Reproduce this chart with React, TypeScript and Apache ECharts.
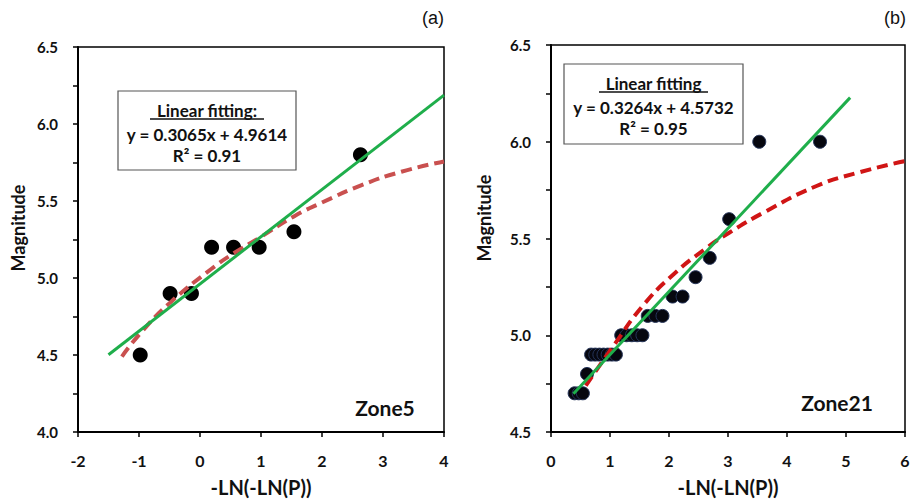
import React, { useEffect, useRef } from "react";
import * as echarts from "echarts";

// Zone5 (a)
const zone5X = [-0.98, -0.49, -0.14, 0.19, 0.55, 0.97, 1.54, 2.63];
const zone5Y = [4.5, 4.9, 4.9, 5.2, 5.2, 5.2, 5.3, 5.8];
const zone5CurveX = [-1.28, -0.98, -0.49, 0.19, 0.55, 0.97, 1.54, 2.0, 2.63, 3.3, 4.0];
const zone5CurveY = [4.49, 4.64, 4.84, 5.06, 5.16, 5.26, 5.4, 5.49, 5.6, 5.69, 5.757];
const zone5Slope = 0.3065;
const zone5Intercept = 4.9614;
const zone5FitX = [-1.5, 4.0];

// Zone21 (b)
const zone21X = [
  0.4, 0.47, 0.54, 0.61,
  0.68, 0.75, 0.82, 0.89, 0.96, 1.03, 1.1,
  1.19, 1.28, 1.37, 1.46, 1.55,
  1.64, 1.77, 1.89,
  2.06, 2.23, 2.45, 2.69, 3.02, 3.53, 4.56,
];
const zone21Y = [
  4.7, 4.7, 4.7, 4.8,
  4.9, 4.9, 4.9, 4.9, 4.9, 4.9, 4.9,
  5.0, 5.0, 5.0, 5.0, 5.0,
  5.1, 5.1, 5.1,
  5.2, 5.2, 5.3, 5.4, 5.6, 6.0, 6.0,
];
const zone21CurveX = [0.59, 1.07, 1.55, 2.06, 2.63, 3.02, 3.64, 4.49, 5.2, 6.0];
const zone21CurveY = [4.74, 4.95, 5.15, 5.31, 5.45, 5.53, 5.64, 5.77, 5.84, 5.9];
const zone21Slope = 0.3264;
const zone21Intercept = 4.5732;
const zone21FitX = [0.38, 5.07];

const FONT = "Lato, 'Noto Sans', sans-serif";

function zip(xs: number[], ys: number[]) {
  return xs.map((x, i) => [x, ys[i]]);
}

function yFmt(v: number) {
  return Math.round(v * 100) % 50 === 0 ? v.toFixed(1) : "";
}

function makeX(gridIndex: number, min: number, max: number) {
  return {
    type: "value",
    gridIndex,
    min,
    max,
    interval: 1,
    name: "-LN(-LN(P))",
    nameLocation: "middle",
    nameGap: 45,
    nameTextStyle: { fontFamily: FONT, fontSize: 20, fontWeight: "bold", color: "#111" },
    axisLine: { show: true, onZero: false, lineStyle: { color: "#000", width: 2 } },
    axisTick: { show: true, length: 5, lineStyle: { color: "#000", width: 1.5 } },
    axisLabel: { fontFamily: FONT, fontSize: 16, fontWeight: "bold", color: "#111", margin: 20 },
    splitLine: { show: false },
  };
}

function makeY(gridIndex: number, min: number, max: number) {
  return {
    type: "value",
    gridIndex,
    min,
    max,
    interval: 0.25,
    axisLine: { show: true, onZero: false, lineStyle: { color: "#000", width: 2 } },
    axisTick: { show: true, length: 5, interval: 0, lineStyle: { color: "#000", width: 1.5 } },
    axisLabel: { fontFamily: FONT, fontSize: 15, fontWeight: "bold", color: "#111", margin: 20, formatter: yFmt },
    splitLine: { show: false },
  };
}

function boxGraphics(x: number, y: number, w: number, h: number, title: string, eq: string, r2: string, ulX1: number, ulX2: number) {
  const cx = x + w / 2;
  const font = `bold 17px ${FONT}`;
  const t = (text: string, ty: number) => ({
    type: "text",
    z: 10,
    style: {
      text,
      x: cx,
      y: ty,
      font,
      fill: "#111",
      align: "center",
      verticalAlign: "middle",
      textAlign: "center",
      textVerticalAlign: "middle",
    },
  });
  return [
    {
      type: "rect",
      z: 9,
      shape: { x, y, width: w, height: h },
      style: { fill: "#fff", stroke: "#555", lineWidth: 1.2 },
    },
    t(title, y + 19),
    {
      type: "line",
      z: 10,
      shape: { x1: ulX1, y1: y + 28, x2: ulX2, y2: y + 28 },
      style: { stroke: "#111", lineWidth: 1.3 },
    },
    t(eq, y + 43),
    t(r2, y + 64),
  ];
}

function label(text: string, x: number, y: number, font: string, rotation = 0) {
  return {
    type: "text",
    z: 10,
    x,
    y,
    rotation,
    style: {
      text,
      x: 0,
      y: 0,
      font,
      fill: "#111",
      align: "center",
      verticalAlign: "middle",
      textAlign: "center",
      textVerticalAlign: "middle",
    },
  };
}

export default function App() {
  const ref = useRef<HTMLDivElement>(null);
  useEffect(() => {
    if (!ref.current) return;
    const chart = echarts.init(ref.current, undefined, { renderer: "svg" });
    const fit5 = zone5FitX.map((x) => [x, zone5Slope * x + zone5Intercept]);
    const fit21 = zone21FitX.map((x) => [x, zone21Slope * x + zone21Intercept]);
    chart.setOption({
      animation: false,
      backgroundColor: "#fff",
      grid: [
        { left: 78, top: 47, width: 366, height: 386, show: true, borderColor: "#000", borderWidth: 1.5, backgroundColor: "transparent" },
        { left: 551, top: 45, width: 354, height: 389, show: true, borderColor: "#000", borderWidth: 1.5, backgroundColor: "transparent" },
      ],
      xAxis: [makeX(0, -2, 4), makeX(1, 0, 6)],
      yAxis: [makeY(0, 4, 6.5), makeY(1, 4.5, 6.5)],
      series: [
        {
          type: "scatter",
          xAxisIndex: 0,
          yAxisIndex: 0,
          data: zip(zone5X, zone5Y),
          symbolSize: 15,
          itemStyle: { color: "#000", opacity: 1 },
          z: 2,
        },
        {
          type: "line",
          xAxisIndex: 0,
          yAxisIndex: 0,
          data: zip(zone5CurveX, zone5CurveY),
          smooth: true,
          showSymbol: false,
          lineStyle: { color: "#c9504f", width: 4, type: [11, 6] },
          z: 3,
        },
        {
          type: "line",
          xAxisIndex: 0,
          yAxisIndex: 0,
          data: fit5,
          showSymbol: false,
          lineStyle: { color: "#1fae4b", width: 3 },
          z: 4,
        },
        {
          type: "scatter",
          xAxisIndex: 1,
          yAxisIndex: 1,
          data: zip(zone21X, zone21Y),
          symbolSize: 13,
          itemStyle: { color: "#06070f", borderColor: "#26355a", borderWidth: 1, opacity: 1 },
          z: 2,
        },
        {
          type: "line",
          xAxisIndex: 1,
          yAxisIndex: 1,
          data: zip(zone21CurveX, zone21CurveY),
          smooth: true,
          showSymbol: false,
          lineStyle: { color: "#d01515", width: 4, type: [11, 6] },
          z: 3,
        },
        {
          type: "line",
          xAxisIndex: 1,
          yAxisIndex: 1,
          data: fit21,
          showSymbol: false,
          lineStyle: { color: "#1fae4b", width: 3 },
          z: 4,
        },
      ],
      graphic: [
        ...boxGraphics(118, 91, 178, 79, "Linear fitting:", "y = 0.3065x + 4.9614", "R\u00b2 = 0.91", 150, 264),
        ...boxGraphics(564, 64, 179, 80, "Linear fitting", "y = 0.3264x + 4.5732", "R\u00b2 = 0.95", 599, 708),
        label("Magnitude", 18, 228, `bold 18px ${FONT}`, Math.PI / 2),
        label("Magnitude", 484, 218, `bold 18px ${FONT}`, Math.PI / 2),
        label("Zone5", 385, 407, `bold 21px ${FONT}`),
        label("Zone21", 837, 402, `bold 21px ${FONT}`),
        label("(a)", 433, 18, `18px 'Liberation Sans', Arial, sans-serif`),
        label("(b)", 895, 18, `18px 'Liberation Sans', Arial, sans-serif`),
      ],
    });
    return () => chart.dispose();
  }, []);
  return (
    <div
      ref={ref}
      style={{ position: "fixed", left: 0, top: 0, width: 917, height: 502, background: "#fff" }}
    />
  );
}
